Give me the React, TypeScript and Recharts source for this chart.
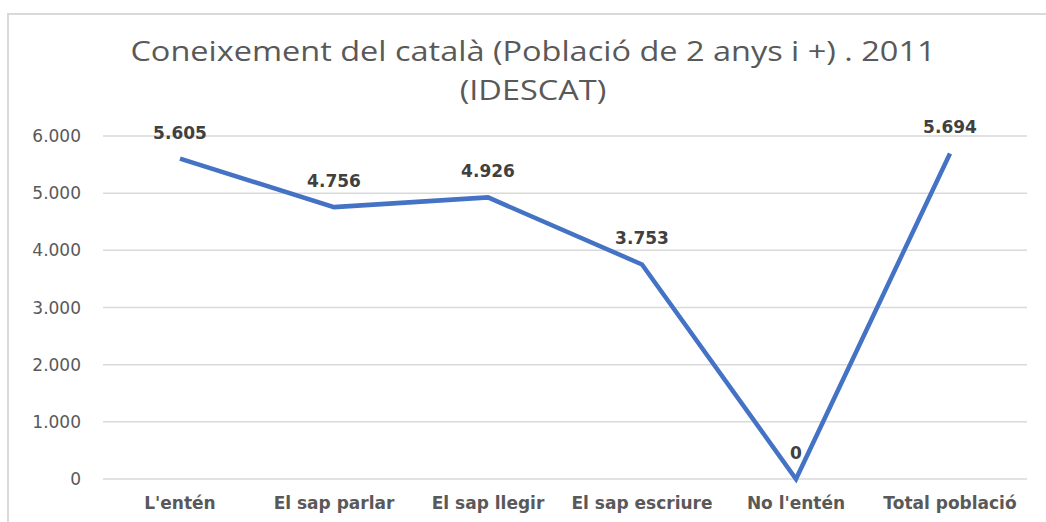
import React from "react";
import { LineChart, Line, XAxis, YAxis, CartesianGrid, LabelList } from "recharts";

const categories = ["L'entén", "El sap parlar", "El sap llegir", "El sap escriure", "No l'entén", "Total població"];
const values = [5605, 4756, 4926, 3753, 0, 5694];
const yTicks = [0, 1000, 2000, 3000, 4000, 5000, 6000];
const title1 = "Coneixement del català (Població de 2 anys i +) . 2011";
const title2 = "(IDESCAT)";

const data = categories.map((c, i) => ({ name: c, value: values[i] }));

const fmt = (v: number) => v.toString().replace(/\B(?=(\d{3})+(?!\d))/g, ".");

export default function App() {
  return (
    <div style={{ position: "absolute", left: 0, top: 0, width: 1046, height: 522, overflow: "hidden", background: "#fff" }}>
      <div style={{ position: "absolute", left: 7, top: 13, width: 1100, height: 600, border: "2px solid #d9d9d9" }} />
      <div
        style={{
          position: "absolute",
          left: 0,
          top: 31,
          width: 1066,
          textAlign: "center",
          fontFamily: "'Open Sans', sans-serif",
          fontSize: 28,
          lineHeight: "39px",
          color: "#595959",
          transform: "scaleX(1.16)",
          transformOrigin: "533px 0",
        }}
      >
        <div>{title1}</div>
        <div>{title2}</div>
      </div>
      <div style={{ position: "absolute", left: 0, top: 0 }}>
        <LineChart width={1046} height={522} data={data} margin={{ top: 136, right: 19, bottom: 13, left: 23 }}>
          <CartesianGrid vertical={false} stroke="#d9d9d9" strokeWidth={1.5} />
          <XAxis
            dataKey="name"
            axisLine={false}
            tickLine={false}
            height={30}
            tickSize={0}
            tickMargin={18}
            padding={{ left: 77, right: 77 }}
            tick={{ fill: "#595959", fontSize: 17, fontWeight: 700, fontFamily: "'DejaVu Sans', sans-serif" }}
            interval={0}
          />
          <YAxis
            width={80}
            domain={[0, 6000]}
            ticks={yTicks}
            tickFormatter={fmt}
            axisLine={false}
            tickLine={false}
            tickSize={0}
            tickMargin={22}
            tick={{ fill: "#595959", fontSize: 17, fontFamily: "'DejaVu Sans', sans-serif" }}
          />
          <Line
            type="linear"
            dataKey="value"
            stroke="#4472C4"
            strokeWidth={4.5}
            dot={false}
            isAnimationActive={false}
          >
            <LabelList
              dataKey="value"
              position="top"
              offset={20}
              formatter={(v: number) => fmt(v)}
              style={{ fill: "#404040", fontSize: 17, fontWeight: 700, fontFamily: "'DejaVu Sans', sans-serif" }}
            />
          </Line>
        </LineChart>
      </div>
    </div>
  );
}
